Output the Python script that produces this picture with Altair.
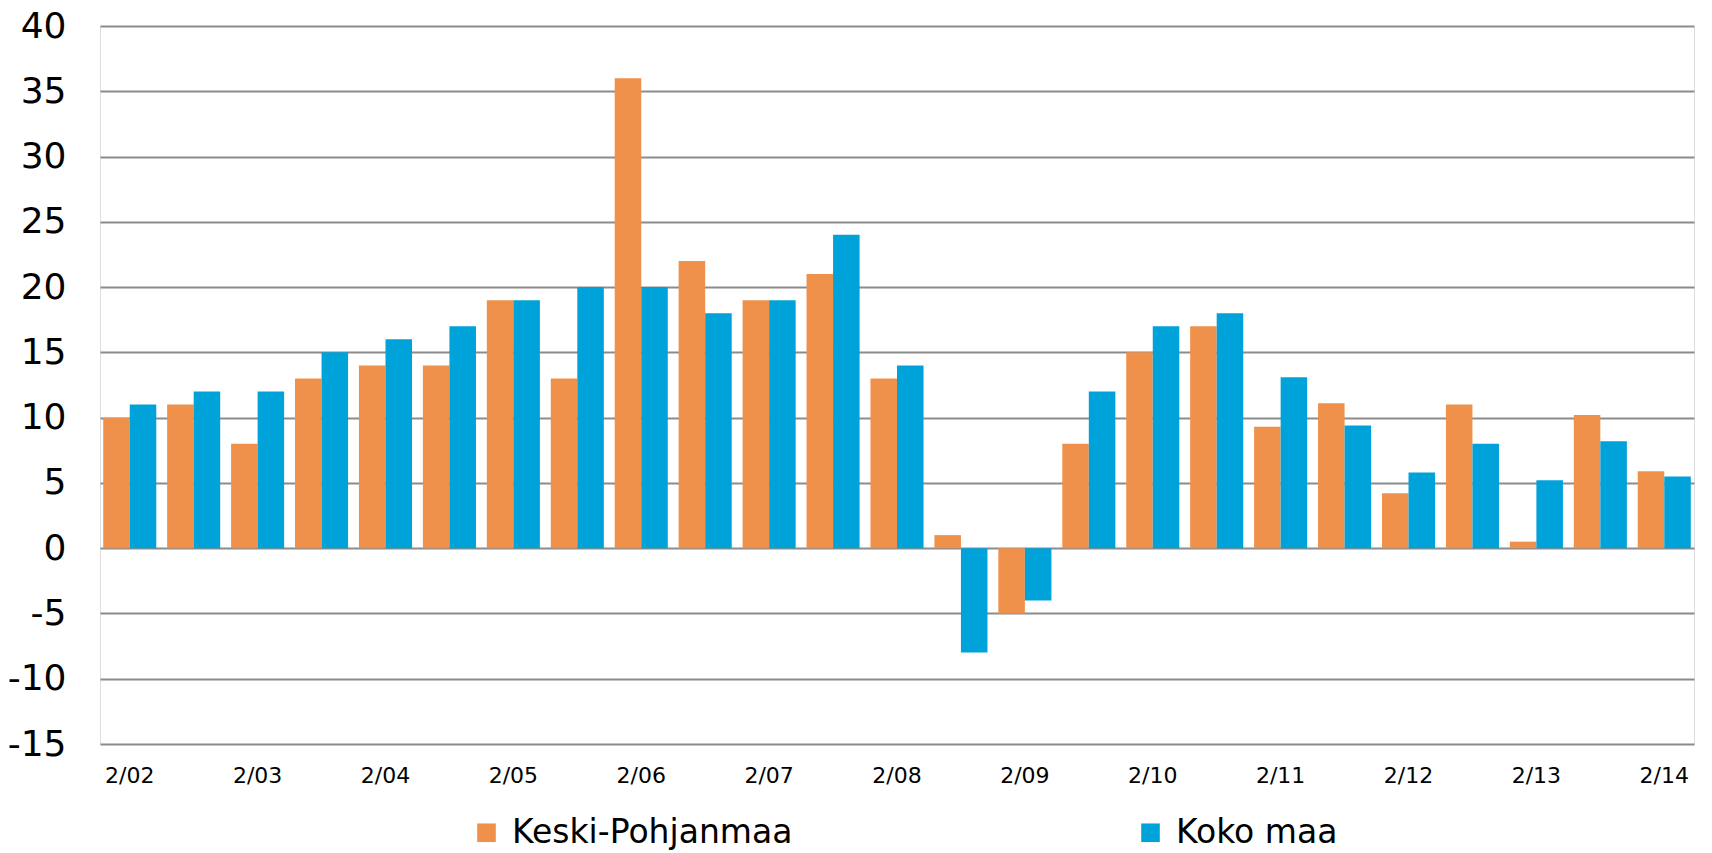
import altair as alt
import pandas as pd

periods = ["2/02", "8/02", "2/03", "8/03", "2/04", "8/04", "2/05", "8/05",
           "2/06", "8/06", "2/07", "8/07", "2/08", "8/08", "2/09", "8/09",
           "2/10", "8/10", "2/11", "8/11", "2/12", "8/12", "2/13", "8/13", "2/14"]
keski_pohjanmaa = [10, 11, 8, 13, 14, 14, 19, 13, 36, 22, 19, 21, 13, 1, -5, 8,
                   15, 17, 9.3, 11.1, 4.2, 11, 0.5, 10.2, 5.9]
koko_maa = [11, 12, 12, 15, 16, 17, 19, 20, 20, 18, 19, 24, 14, -8, -4, 12,
            17, 18, 13.1, 9.4, 5.8, 8, 5.2, 8.2, 5.5]
series_names = ["Keski-Pohjanmaa", "Koko maa"]
colors = ["#F0914B", "#00A3D9"]
x_labels = [p for p in periods if p.startswith("2/")]
y_ticks = list(range(-15, 41, 5))

rows = []
for i, p in enumerate(periods):
    rows.append({"period": p, "series": series_names[0], "value": keski_pohjanmaa[i]})
    rows.append({"period": p, "series": series_names[1], "value": koko_maa[i]})
df = pd.DataFrame(rows)

FONT = "DejaVu Sans"

chart = alt.Chart(df).mark_bar().encode(
    x=alt.X("period:N", sort=periods,
            scale=alt.Scale(paddingInner=0.17, paddingOuter=0.05),
            axis=alt.Axis(values=x_labels, labelAngle=0, ticks=False, domain=False,
                          grid=False, title=None, labelFont=FONT, labelFontSize=22,
                          labelColor="#000000", labelPadding=21)),
    xOffset=alt.XOffset("series:N", sort=series_names,
                        scale=alt.Scale(paddingInner=0, paddingOuter=0)),
    y=alt.Y("value:Q", scale=alt.Scale(domain=[-15, 40], nice=False, zero=False),
            axis=alt.Axis(values=y_ticks, ticks=False, domain=False, grid=True,
                          gridColor="#8c8c8c", gridWidth=2, title=None,
                          labelExpr="'' + datum.value",
                          labelFont=FONT, labelFontSize=36, labelColor="#000000",
                          labelPadding=34)),
    color=alt.Color("series:N", sort=series_names,
                    scale=alt.Scale(domain=series_names, range=colors),
                    legend=alt.Legend(orient="none", legendX=370, legendY=790,
                                      direction="horizontal", title=None,
                                      symbolType="square", symbolSize=346,
                                      symbolStrokeWidth=0, labelFont=FONT,
                                      labelFontSize=33, labelColor="#000000",
                                      labelOffset=9, columnPadding=341,
                                      labelLimit=600, padding=0)),
).properties(
    width=1594, height=718,
    autosize=alt.AutoSizeParams(type="none"),
    padding={"left": 92, "top": 18, "right": 8, "bottom": 110},
).configure_view(
    stroke="#a6a6a6", strokeWidth=2
).configure(background="#ffffff")

chart.save("out.html", embed_options={"renderer": "svg", "actions": False})
